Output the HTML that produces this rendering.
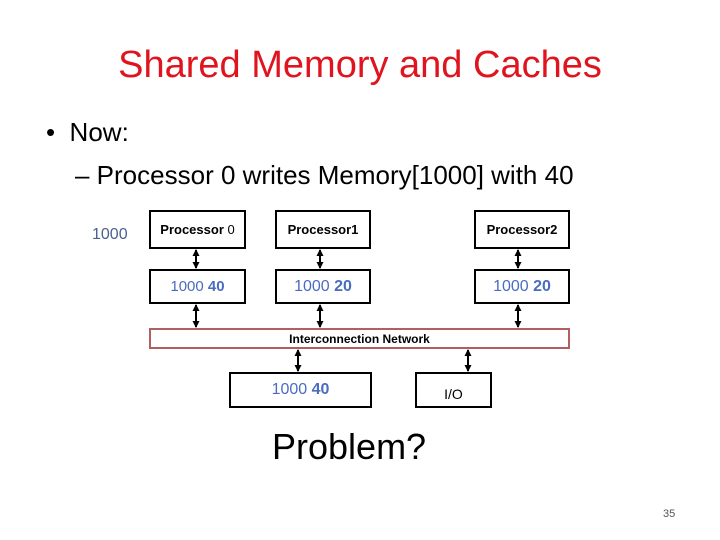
<!DOCTYPE html>
<html><head><style>
body{margin:0;width:720px;height:540px;background:#fff;position:relative;overflow:hidden;font-family:"Liberation Sans",sans-serif}
.t{position:absolute;white-space:nowrap}
.b{position:absolute;border:2px solid #000;box-sizing:border-box;background:#fff}
.c{display:flex;align-items:center;justify-content:center}
.bl{color:#4a6cc0}
</style></head><body>
<div class="t" style="left:0;width:720px;text-align:center;top:44px;font-size:38px;color:#e0141e">Shared Memory and Caches</div>
<div class="t" style="left:46px;top:117px;font-size:26px">•&nbsp;&nbsp;Now:</div>
<div class="t" style="left:75px;top:160px;font-size:26px">– Processor 0 writes Memory[1000] with 40</div>
<div class="t" style="left:92px;top:226px;font-size:16px;color:#4a6090">1000</div>
<svg style="position:absolute;left:0;top:0" width="720" height="540">
<defs><marker id="a" markerUnits="userSpaceOnUse" markerWidth="8" markerHeight="8" refX="6" refY="4" orient="auto-start-reverse"><path d="M0,0.5L7,4L0,7.5z"/></marker></defs>
<g stroke="#000" stroke-width="2" marker-start="url(#a)" marker-end="url(#a)">
<line x1="196" y1="250" x2="196" y2="268"/><line x1="320" y1="250" x2="320" y2="268"/><line x1="518" y1="250" x2="518" y2="268"/>
<line x1="196" y1="305" x2="196" y2="327"/><line x1="320" y1="305" x2="320" y2="327"/><line x1="518" y1="305" x2="518" y2="327"/>
<line x1="298" y1="350" x2="298" y2="371"/><line x1="468" y1="350" x2="468" y2="371"/>
</g>
</svg>
<div class="b c" style="left:149px;top:210px;width:97px;height:39px;font-size:13px;font-weight:bold">Processor&nbsp;<span style="font-weight:normal">0</span></div>
<div class="b c" style="left:275px;top:210px;width:96px;height:39px;font-size:13px;font-weight:bold">Processor1</div>
<div class="b c" style="left:474px;top:210px;width:96px;height:39px;font-size:13px;font-weight:bold">Processor2</div>
<div class="b c bl" style="left:149px;top:269px;width:97px;height:35px;font-size:15px">1000&nbsp;<b>40</b></div>
<div class="b c bl" style="left:275px;top:269px;width:96px;height:35px;font-size:16px">1000&nbsp;<b>20</b></div>
<div class="b c bl" style="left:474px;top:269px;width:96px;height:35px;font-size:16px">1000&nbsp;<b>20</b></div>
<div class="b c" style="left:149px;top:328px;width:421px;height:21px;border-color:#b06060;font-size:12px;font-weight:bold">Interconnection Network</div>
<div class="b c bl" style="left:229px;top:372px;width:143px;height:36px;font-size:16px">1000&nbsp;<b>40</b></div>
<div class="b c" style="left:415px;top:372px;width:77px;height:36px;font-size:14px;padding-top:8px">I/O</div>
<div class="t" style="left:272px;top:426px;font-size:36px">Problem?</div>
<div class="t" style="left:663px;top:508px;font-size:11px;color:#555">35</div>
</body></html>
